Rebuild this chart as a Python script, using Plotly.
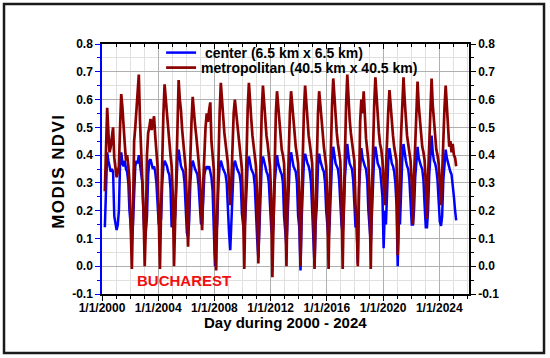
import pandas as pd
import plotly.graph_objects as go

# Monthly MODIS NDVI samples (mid-month), Feb 2000 .. Feb 2025
start_month = "2000-02-15"

metropolitan = [
    # 2000 (Feb-Dec)
    0.27, 0.44, 0.57, 0.48, 0.41, 0.43, 0.47, 0.50, 0.39, 0.35, 0.32,
    # 2001
    0.34, 0.36, 0.50, 0.62, 0.57, 0.49, 0.44, 0.38, 0.40, 0.36, 0.30, 0.15,
    # 2002
    -0.01, 0.18, 0.45, 0.50, 0.56, 0.63, 0.69, 0.52, 0.42, 0.36, 0.20, 0.00,
    # 2003
    0.15, 0.40, 0.48, 0.50, 0.53, 0.49, 0.52, 0.54, 0.47, 0.42, 0.36, 0.18,
    # 2004
    -0.01, 0.20, 0.42, 0.55, 0.655, 0.58, 0.55, 0.50, 0.44, 0.40, 0.36, 0.25,
    # 2005
    0.00, 0.15, 0.40, 0.55, 0.67, 0.60, 0.56, 0.49, 0.45, 0.41, 0.35, 0.22,
    # 2006
    0.07, 0.25, 0.42, 0.52, 0.61, 0.55, 0.51, 0.47, 0.43, 0.38, 0.32, 0.20,
    # 2007
    0.13, 0.30, 0.42, 0.50, 0.55, 0.52, 0.56, 0.59, 0.45, 0.40, 0.35, 0.05,
    # 2008
    -0.015, 0.20, 0.42, 0.55, 0.66, 0.58, 0.54, 0.48, 0.44, 0.41, 0.37, 0.30,
    # 2009
    0.22, 0.30, 0.45, 0.55, 0.60, 0.56, 0.50, 0.46, 0.42, 0.40, 0.35, 0.20,
    # 2010
    -0.01, 0.22, 0.45, 0.57, 0.66, 0.58, 0.53, 0.47, 0.43, 0.40, 0.36, 0.25,
    # 2011
    0.01, 0.20, 0.45, 0.56, 0.65, 0.59, 0.52, 0.47, 0.44, 0.40, 0.36, 0.25,
    # 2012
    -0.04, 0.15, 0.40, 0.55, 0.63, 0.57, 0.51, 0.45, 0.42, 0.40, 0.37, 0.22,
    # 2013
    0.00, 0.25, 0.45, 0.55, 0.63, 0.58, 0.52, 0.47, 0.43, 0.40, 0.37, 0.25,
    # 2014
    0.00, 0.22, 0.45, 0.56, 0.65, 0.58, 0.53, 0.47, 0.44, 0.41, 0.37, 0.20,
    # 2015
    -0.01, 0.20, 0.43, 0.55, 0.63, 0.57, 0.52, 0.48, 0.43, 0.40, 0.36, 0.22,
    # 2016
    -0.01, 0.25, 0.45, 0.58, 0.676, 0.60, 0.54, 0.48, 0.44, 0.41, 0.38, 0.25,
    # 2017
    -0.01, 0.22, 0.45, 0.58, 0.69, 0.60, 0.53, 0.48, 0.45, 0.41, 0.38, 0.22,
    # 2018
    0.15, 0.00, 0.38, 0.52, 0.60, 0.55, 0.63, 0.52, 0.46, 0.42, 0.38, 0.25,
    # 2019
    -0.01, 0.25, 0.45, 0.58, 0.68, 0.60, 0.54, 0.48, 0.44, 0.42, 0.38, 0.28,
    # 2020
    0.22, 0.35, 0.48, 0.56, 0.634, 0.57, 0.52, 0.47, 0.43, 0.41, 0.38, 0.04,
    # 2021
    0.25, 0.35, 0.48, 0.58, 0.68, 0.60, 0.53, 0.47, 0.44, 0.41, 0.38, 0.30,
    # 2022
    0.15, 0.32, 0.46, 0.56, 0.665, 0.58, 0.52, 0.47, 0.43, 0.41, 0.38, 0.30,
    # 2023
    0.17, 0.32, 0.47, 0.57, 0.676, 0.58, 0.52, 0.46, 0.42, 0.40, 0.37, 0.30,
    # 2024
    0.22, 0.33, 0.47, 0.57, 0.65, 0.56, 0.48, 0.43, 0.45, 0.41, 0.44, 0.40,
    # 2025 (Jan-Feb)
    0.39, 0.36,
]

center = [
    # 2000 (Feb-Dec)
    0.14, 0.30, 0.41, 0.38, 0.36, 0.34, 0.35, 0.34, 0.18, 0.16, 0.13,
    # 2001
    0.15, 0.20, 0.37, 0.41, 0.37, 0.36, 0.38, 0.35, 0.34, 0.30, 0.20, 0.14,
    # 2002
    0.10, 0.15, 0.30, 0.36, 0.38, 0.37, 0.40, 0.36, 0.34, 0.30, 0.18, 0.09,
    # 2003
    0.13, 0.18, 0.33, 0.38, 0.385, 0.36, 0.35, 0.36, 0.34, 0.30, 0.20, 0.15,
    # 2004
    0.16, 0.17, 0.30, 0.36, 0.38, 0.37, 0.36, 0.34, 0.33, 0.28, 0.14, 0.15,
    # 2005
    0.14, 0.18, 0.32, 0.38, 0.42, 0.38, 0.36, 0.35, 0.34, 0.30, 0.18, 0.12,
    # 2006
    0.105, 0.16, 0.30, 0.36, 0.38, 0.36, 0.35, 0.34, 0.33, 0.29, 0.20, 0.155,
    # 2007
    0.15, 0.22, 0.33, 0.35, 0.36, 0.35, 0.36, 0.34, 0.32, 0.27, 0.15, 0.00,
    # 2008
    0.10, 0.16, 0.30, 0.36, 0.38, 0.36, 0.35, 0.34, 0.33, 0.30, 0.18, 0.12,
    # 2009
    0.058, 0.16, 0.30, 0.36, 0.38, 0.36, 0.35, 0.34, 0.33, 0.30, 0.19, 0.15,
    # 2010
    0.12, 0.18, 0.32, 0.37, 0.395, 0.37, 0.35, 0.34, 0.33, 0.29, 0.18, 0.10,
    # 2011
    0.03, 0.16, 0.32, 0.37, 0.395, 0.37, 0.36, 0.34, 0.33, 0.30, 0.19, 0.14,
    # 2012
    0.11, 0.15, 0.30, 0.37, 0.40, 0.37, 0.35, 0.34, 0.33, 0.30, 0.18, 0.12,
    # 2013
    0.07, 0.17, 0.32, 0.38, 0.41, 0.38, 0.36, 0.35, 0.34, 0.30, 0.18, 0.14,
    # 2014
    -0.015, 0.16, 0.32, 0.38, 0.405, 0.38, 0.37, 0.36, 0.34, 0.30, 0.20, 0.10,
    # 2015
    0.00, 0.15, 0.22, 0.36, 0.405, 0.38, 0.36, 0.35, 0.34, 0.30, 0.20, 0.15,
    # 2016
    0.094, 0.16, 0.30, 0.38, 0.43, 0.39, 0.37, 0.36, 0.35, 0.31, 0.20, 0.15,
    # 2017
    0.12, 0.18, 0.32, 0.39, 0.44, 0.40, 0.37, 0.36, 0.35, 0.31, 0.20, 0.14,
    # 2018
    0.15, 0.01, 0.28, 0.38, 0.425, 0.39, 0.37, 0.36, 0.35, 0.31, 0.20, 0.15,
    # 2019
    0.08, 0.18, 0.33, 0.40, 0.43, 0.39, 0.37, 0.36, 0.35, 0.30, 0.25, 0.065,
    # 2020
    0.20, 0.15, 0.30, 0.38, 0.425, 0.39, 0.37, 0.36, 0.34, 0.30, 0.22, 0.00,
    # 2021
    0.17, 0.15, 0.30, 0.39, 0.44, 0.40, 0.38, 0.36, 0.35, 0.31, 0.25, 0.15,
    # 2022
    0.15, 0.20, 0.32, 0.38, 0.43, 0.39, 0.37, 0.36, 0.35, 0.31, 0.22, 0.14,
    # 2023
    0.14, 0.20, 0.33, 0.40, 0.47, 0.41, 0.38, 0.37, 0.35, 0.31, 0.22, 0.16,
    # 2024
    0.145, 0.18, 0.31, 0.38, 0.42, 0.39, 0.37, 0.35, 0.34, 0.33, 0.30, 0.25,
    # 2025 (Jan-Feb)
    0.20, 0.165,
]

y_tick_values = [-0.1, 0.0, 0.1, 0.2, 0.3, 0.4, 0.5, 0.6, 0.7, 0.8]
y_tick_labels = ["-0.1", "0.0", "0.1", "0.2", "0.3", "0.4", "0.5", "0.6", "0.7", "0.8"]
x_range = ["2000-01-01", "2026-02-11"]

dates = pd.date_range(start_month, periods=len(center), freq="MS") + pd.Timedelta(days=14)

BOLD = dict(family="Liberation Sans, Arial, sans-serif", weight="bold", color="black")

fig = go.Figure()
fig.add_trace(go.Scatter(x=dates, y=center, mode="lines",
                         name="\u00a0center (6.5 km x 6.5 km)",
                         line=dict(color="#0000ff", width=2.5), legend="legend"))
fig.add_trace(go.Scatter(x=dates, y=metropolitan, mode="lines",
                         name="metropolitan (40.5 km x 40.5 km)",
                         line=dict(color="#8b0000", width=2.7), legend="legend2"))
# invisible helper trace so the mirrored top/right axes are drawn
fig.add_trace(go.Scatter(x=dates, y=center, mode="lines", xaxis="x2", yaxis="y2",
                         line=dict(width=0), opacity=0, showlegend=False, hoverinfo="skip"))

fig.update_layout(
    width=550, height=358,
    margin=dict(l=102, r=81, t=44, b=64),
    paper_bgcolor="white", plot_bgcolor="white",
    font=dict(**BOLD, size=12),
    showlegend=True,
    legend=dict(x=0.161, y=1.028, xanchor="left", yanchor="top",
                bgcolor="rgba(0,0,0,0)", font=dict(**BOLD, size=14), itemwidth=30),
    legend2=dict(x=0.161, y=0.968, xanchor="left", yanchor="top",
                 bgcolor="rgba(0,0,0,0)", font=dict(**BOLD, size=14), itemwidth=30),
    xaxis=dict(type="date", range=x_range, showline=True, linecolor="black", linewidth=1.5,
               ticks="outside", ticklen=5, tickwidth=1.2, tickcolor="black",
               tick0="2000-01-01", dtick="M48", tickformat="%-m/%-d/%Y",
               tickfont=dict(**BOLD, size=12), ticklabelstandoff=-3,
               showgrid=True, gridcolor="#b0b0b0", gridwidth=1, zeroline=False,
               minor=dict(dtick="M12", ticks="outside", ticklen=3, tickcolor="black",
                          showgrid=True, gridcolor="#e0e0e0", gridwidth=1)),
    xaxis2=dict(type="date", matches="x", overlaying="x", side="top", showline=True,
                linecolor="black", linewidth=1.5, ticks="inside", ticklen=5, tickcolor="black",
                tick0="2000-01-01", dtick="M48", showticklabels=False, showgrid=False,
                minor=dict(dtick="M12", ticks="inside", ticklen=3, tickcolor="black")),
    yaxis=dict(range=[-0.1, 0.8], tickmode="array", tickvals=y_tick_values, ticktext=y_tick_labels,
               showline=True, linecolor="#0000ff", linewidth=1.5,
               ticks="outside", ticklen=5, tickcolor="#0000ff", tickwidth=1.2,
               tickfont=dict(**BOLD, size=12),
               showgrid=True, gridcolor="#b0b0b0", gridwidth=1, zeroline=False,
               minor=dict(tick0=0, dtick=0.05, ticks="outside", ticklen=3, tickcolor="#0000ff",
                          showgrid=True, gridcolor="#e0e0e0", gridwidth=1)),
    yaxis2=dict(range=[-0.1, 0.8], overlaying="y", side="right", tickmode="array",
                tickvals=y_tick_values, ticktext=y_tick_labels,
                showline=True, linecolor="black", linewidth=1.5,
                ticks="outside", ticklen=5, tickcolor="black", tickwidth=1.2,
                tickfont=dict(**BOLD, size=12), showgrid=False, zeroline=False,
                minor=dict(tick0=0, dtick=0.05, ticks="outside", ticklen=3, tickcolor="black")),
)

fig.add_annotation(text="M\u200aO\u200aD\u200aI\u200aS\u200a \u200aN\u200aD\u200aV\u200aI",
                   xref="paper", yref="paper", x=-0.117, y=0.489,
                   xanchor="center", yanchor="middle", textangle=-90, showarrow=False,
                   font=dict(**BOLD, size=17))
fig.add_annotation(text="Day during 2000 - 2024", xref="paper", yref="paper",
                   x=0.499, y=-0.115, xanchor="center", yanchor="middle", showarrow=False,
                   font=dict(**BOLD, size=15))
fig.add_annotation(text="BUCHAREST", xref="x", yref="y", x="2005-11-06", y=-0.05,
                   xanchor="center", yanchor="middle", showarrow=False,
                   font=dict(family="Liberation Sans, Arial, sans-serif", weight="bold",
                             size=15, color="#f01010"))

fig.add_shape(type="rect", xref="paper", yref="paper", x0=-0.267, x1=1.2044, y0=-0.236, y1=1.16,
              line=dict(color="#1a1a1a", width=2.5), layer="above")

fig.write_html("out.html", config={"displayModeBar": False},
               post_script="document.body.style.margin='0';document.body.style.padding='0';")
